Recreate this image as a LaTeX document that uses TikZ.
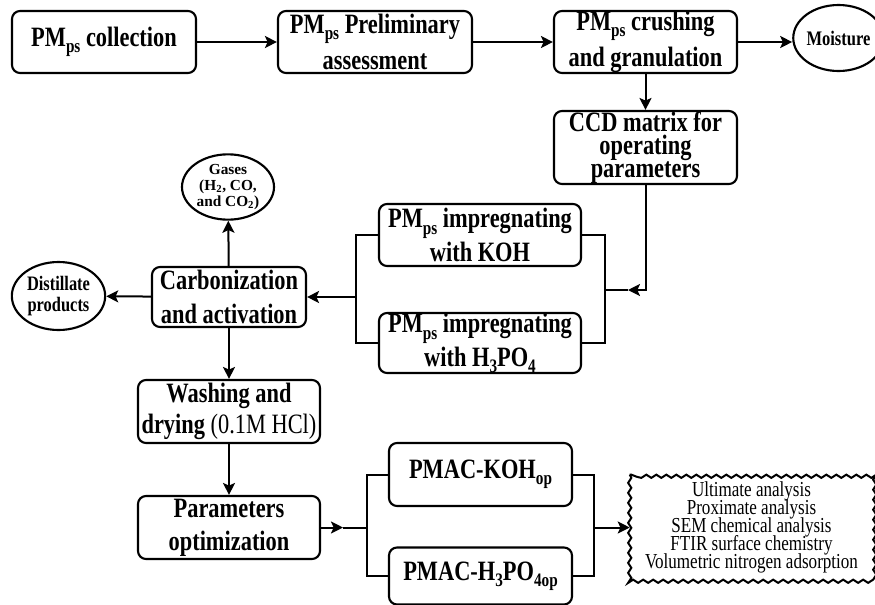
\documentclass[tikz,border=0pt]{standalone}
\usepackage{fontspec}
\setmainfont{Liberation Serif}[FakeStretch=0.8]
\newfontfamily\widefont{Liberation Serif}
\usetikzlibrary{arrows.meta,shapes.geometric,decorations.pathmorphing}
\newcommand{\lo}[1]{\raisebox{-0.22em}{\scalebox{0.68}{#1}}}
\newcommand{\PMps}{PM\lo{ps}}
\lineskiplimit=-50pt
\begin{document}
\begin{tikzpicture}[x=0.75pt,y=-0.75pt,
    procbox/.style={draw,rounded corners=6pt,line width=1.6pt,align=center,inner sep=0pt,
        font=\bfseries\fontsize{21}{25}\selectfont},
    outoval/.style={draw,ellipse,line width=1.6pt,align=center,inner sep=0pt,
        font=\bfseries\fontsize{15.4}{16}\selectfont},
    link/.style={line width=1.5pt},
    flow/.style={link,-{Stealth[length=9pt,width=9pt,inset=2pt]}}]
    \useasboundingbox[fill=white] (0,0) rectangle (875,604);
    % top row
    \node[procbox,minimum width=138pt,minimum height=46.5pt] (coll) at (104,42) {\PMps{} collection};
    \node[procbox,minimum width=145.5pt,minimum height=46.5pt,font=\bfseries\fontsize{21}{27}\selectfont] (prelim) at (375,42) {\PMps{} Preliminary\\assessment};
    \node[procbox,minimum width=137.25pt,minimum height=46.5pt,font=\bfseries\fontsize{21}{27}\selectfont] (crush) at (645.5,42) {\PMps{} crushing\\and granulation};
    \node[outoval,minimum width=55pt,minimum height=49.5pt,font=\bfseries\fontsize{15.5}{16}\selectfont] (moist) at (838.5,38) {Moisture};
    \node[procbox,minimum width=137.25pt,minimum height=54.75pt,font=\bfseries\fontsize{21}{17}\selectfont] (ccd) at (645.5,147.5) {CCD matrix for\\operating\\parameters};
    % impregnation
    \node[procbox,minimum width=151.5pt,minimum height=46.5pt] (koh) at (480,235) {\PMps{} impregnating\\with KOH};
    \node[procbox,minimum width=151.5pt,minimum height=45pt] (h3) at (480,343) {\PMps{} impregnating\\with H\lo{3}PO\lo{4}};
    \node[procbox,minimum width=115.5pt,minimum height=45pt] (carb) at (229,297) {Carbonization\\and activation};
    \node[outoval,minimum width=69pt,minimum height=49pt,font=\widefont\bfseries\fontsize{11.5}{12}\selectfont] (gases) at (228,187) {Gases\\(H\textsubscript{2}, CO,\\and CO\textsubscript{2})};
    \node[outoval,minimum width=70pt,minimum height=51pt] (dist) at (58.5,296) {Distillate\\products};
    \node[procbox,minimum width=136.5pt,minimum height=47.25pt,font=\bfseries\fontsize{21}{23}\selectfont] (wash) at (229,411.5) {Washing and\\drying {\mdseries(0.1M HCl)}};
    \node[procbox,minimum width=136.5pt,minimum height=47.25pt] (param) at (229,527.5) {Parameters\\optimization};
    % products
    \node[procbox,minimum width=137.25pt,minimum height=47.25pt] (pmackoh) at (480.5,474.5) {PMAC-KOH\lo{op}};
    \node[procbox,minimum width=137.25pt,minimum height=42.75pt] (pmach) at (480.5,576) {PMAC-H\lo{3}PO\lo{4op}};
    \node[minimum width=182.25pt,minimum height=78.75pt,align=center,inner sep=0pt,
        font=\fontsize{16}{13.5}\selectfont] (anal) at (751.5,527.5)
        {Ultimate analysis\\Proximate analysis\\SEM chemical analysis\\FTIR surface chemistry\\Volumetric nitrogen adsorption};
    \draw[link,decorate,decoration={snake,amplitude=1.2pt,segment length=7.5pt}]
        (anal.north west) rectangle (anal.south east);
    \coordinate (brR) at (605,290);
    \coordinate (ccdTip) at (628,290);
    \coordinate (brL) at (356,297);
    \coordinate (parTip) at (343,527.5);
    \coordinate (brP) at (367,527.5);
    \coordinate (brA) at (594,527.5);
    % connectors
    \draw[flow] (coll) -- (prelim);
    \draw[flow] (prelim) -- (crush);
    \draw[flow] (crush.east) -- (moist.west |- crush.east);
    \draw[flow] (crush) -- (ccd);
    \draw[flow] (ccd.south) |- (ccdTip);
    \draw[link] (ccdTip) -- (brR);
    \draw[link] (koh.east) -| (brR) |- (h3.east);
    \draw[link] (koh.west) -| (brL) |- (h3.west);
    \draw[flow] (brL) -- (carb.east);
    \draw[flow] (carb) -- (gases);
    \draw[flow] (carb) -- (dist);
    \draw[flow] (carb) -- (wash);
    \draw[flow] (wash) -- (param);
    \draw[flow] (param.east) -- (parTip);
    \draw[link] (parTip) -- (brP);
    \draw[link] (pmackoh.west) -| (brP) |- (pmach.west);
    \draw[link] (pmackoh.east) -| (brA) |- (pmach.east);
    \draw[flow] (brA) -- (anal.west);
\end{tikzpicture}
\end{document}
